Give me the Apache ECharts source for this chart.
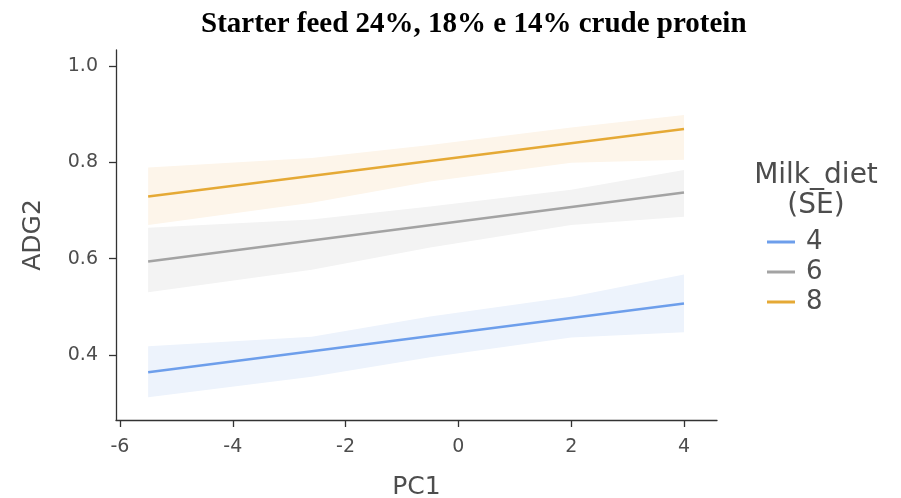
<!DOCTYPE html>
<html>
<head>
<meta charset="utf-8">
<script src="https://cdn.jsdelivr.net/npm/echarts@6/dist/echarts.min.js"></script>
<style>html,body{margin:0;padding:0;background:#fff}#c{width:901px;height:498px}</style>
</head>
<body>
<div id="c"></div>
<script>
// ---- data ----
var groups = ['4', '6', '8'];
var lineX = [-5.5, 4.0];
var line4 = [0.364, 0.507];
var line6 = [0.594, 0.737];
var line8 = [0.729, 0.869];
var bandX = [-5.5, -2.6, -0.5, 2.0, 4.0];
var upper4 = [0.418, 0.438, 0.480, 0.521, 0.567];
var lower4 = [0.312, 0.355, 0.395, 0.436, 0.447];
var upper6 = [0.664, 0.681, 0.708, 0.743, 0.784];
var lower6 = [0.530, 0.577, 0.623, 0.670, 0.687];
var upper8 = [0.789, 0.809, 0.836, 0.872, 0.898];
var lower8 = [0.670, 0.716, 0.760, 0.799, 0.805];
var xTicks = [-6, -4, -2, 0, 2, 4];
var yTicks = [0.4, 0.6, 0.8, 1.0];

var lineColors = {'4': '#6d9eeb', '6': '#a3a3a3', '8': '#e5a935'};
var bandColors = {'4': '#edf3fc', '6': '#f3f3f3', '8': '#fdf5ea'};
var lines = {'4': line4, '6': line6, '8': line8};
var uppers = {'4': upper4, '6': upper6, '8': upper8};
var lowers = {'4': lower4, '6': lower6, '8': lower8};

function bandSeries(g) {
  var up = uppers[g], lo = lowers[g];
  var data = bandX.map(function (x, i) { return [x, lo[i], up[i]]; });
  return {
    type: 'custom',
    name: 'band' + g,
    silent: true,
    z: 1,
    clip: true,
    data: data,
    encode: {x: 0, y: [1, 2]},
    renderItem: function (params, api) {
      if (params.dataIndex !== 0) return null;
      var pts = [];
      for (var i = 0; i < bandX.length; i++) pts.push(api.coord([bandX[i], up[i]]));
      for (var j = bandX.length - 1; j >= 0; j--) pts.push(api.coord([bandX[j], lo[j]]));
      return {type: 'polygon', shape: {points: pts}, style: {fill: bandColors[g]}};
    }
  };
}

function lineSeries(g) {
  return {
    type: 'line',
    name: g,
    z: 3,
    data: lineX.map(function (x, i) { return [x, lines[g][i]]; }),
    showSymbol: false,
    symbol: 'none',
    lineStyle: {color: lineColors[g], width: 2.5},
    itemStyle: {color: lineColors[g]},
    animation: false
  };
}

var series = [];
groups.forEach(function (g) { series.push(bandSeries(g)); });
groups.forEach(function (g) { series.push(lineSeries(g)); });

var axisCol = '#333333';
var labCol = '#4d4d4d';
var fam = '"DejaVu Sans"';
var chart = echarts.init(document.getElementById('c'), null, {renderer: 'canvas'});
chart.setOption({
  animation: false,
  backgroundColor: '#ffffff',
  title: {
    text: 'Starter feed 24%, 18% e 14% crude protein',
    left: 196, top: 5,
    textStyle: {fontFamily: 'Liberation Serif', fontWeight: 'bold', fontSize: 29, color: '#000'}
  },
  graphic: [{
    type: 'text', x: 816, y: 161,
    style: {text: 'Milk_diet\n(SE)', textAlign: 'center', align: 'center', font: '28px ' + fam, fill: labCol, lineHeight: 30}
  }],
  legend: {
    data: groups,
    orient: 'vertical',
    left: 762, top: 224,
    icon: 'rect',
    itemWidth: 28, itemHeight: 3,
    itemGap: 4,
    textStyle: {fontFamily: 'DejaVu Sans', fontSize: 26, color: labCol, lineHeight: 24, padding: [0, 0, 0, 6]}
  },
  grid: {left: 116, right: 184, top: 50, bottom: 78, containLabel: false, outerBoundsMode: 'none'},
  xAxis: {
    type: 'value', min: -6.07, max: 4.585,
    name: 'PC1', nameLocation: 'middle', nameGap: 55,
    nameTextStyle: {fontFamily: 'DejaVu Sans', fontSize: 25, color: labCol},
    splitLine: {show: false},
    axisLine: {show: true, onZero: false, lineStyle: {color: axisCol, width: 1.3}},
    axisTick: {show: true, length: 7, customValues: xTicks, lineStyle: {color: axisCol, width: 1.3}},
    axisLabel: {customValues: xTicks, margin: 18, fontFamily: 'DejaVu Sans', fontSize: 19, color: labCol,
      showMinLabel: true, showMaxLabel: true}
  },
  yAxis: {
    type: 'value', min: 0.265, max: 1.033,
    name: 'ADG2', nameLocation: 'middle', nameGap: 70, nameRotate: 90,
    nameTextStyle: {fontFamily: 'DejaVu Sans', fontSize: 25, color: labCol},
    splitLine: {show: false},
    axisLine: {show: true, onZero: false, lineStyle: {color: axisCol, width: 1.3}},
    axisTick: {show: true, length: 7, customValues: yTicks, lineStyle: {color: axisCol, width: 1.3}},
    axisLabel: {customValues: yTicks, margin: 18, fontFamily: 'DejaVu Sans', fontSize: 19, color: labCol,
      formatter: function (v) { return v.toFixed(1); }}
  },
  series: series
});
</script>
</body>
</html>
